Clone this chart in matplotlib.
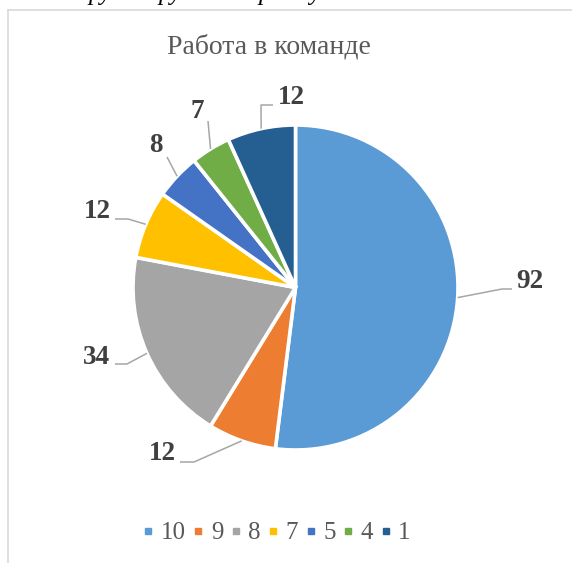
import numpy as np
import matplotlib.pyplot as plt
from matplotlib.lines import Line2D

plt.rcParams['font.family'] = ['Liberation Serif', 'DejaVu Serif']

W, H = 572, 563

# data
title = "Работа в команде"
categories = ["10", "9", "8", "7", "5", "4", "1"]
values = [92, 12, 34, 12, 8, 7, 12]
colors = ["#5B9BD5", "#ED7D31", "#A5A5A5", "#FFC000", "#4472C4", "#70AD47", "#255E91"]

# label text centres and leader-line elbows (image pixel coords, y down)
label_pos = [(530, 281), (162, 453), (97, 357), (97, 212), (156, 146), (197, 111), (291, 97)]
elbow_pos = [(502, 289), (194, 462), (127, 364), (128, 219), (167, 157), (208, 121), (261, 105)]
line_end = [(512, 289), (180, 462), (115, 364), (115, 219), None, None, (273, 105)]

cx, cy, r = 295.5, 287.5, 162.5


def flip(y):
    return H - y


fig = plt.figure(figsize=(W / 100, H / 100), dpi=100)
ax = fig.add_axes([0, 0, 1, 1])

wedges, _ = ax.pie(values, colors=colors, startangle=90, counterclock=False,
                   center=(cx, flip(cy)), radius=r, frame=True,
                   wedgeprops=dict(edgecolor="white", linewidth=2.6))
ax.set_xlim(0, W)
ax.set_ylim(0, H)
ax.axis("off")

# data labels with leader lines
for w, v, lp, ep, le in zip(wedges, values, label_pos, elbow_pos, line_end):
    mid = np.deg2rad((w.theta1 + w.theta2) / 2)
    sx, sy = cx + r * np.cos(mid), flip(cy) + r * np.sin(mid)
    xs = [sx, ep[0]]
    ys = [sy, flip(ep[1])]
    if le is not None:
        xs.append(le[0])
        ys.append(flip(le[1]))
    ax.plot(xs, ys, color="#A6A6A6", lw=1.1, solid_capstyle="butt")
    ax.text(lp[0], flip(lp[1]), str(v), ha="center", va="center",
            fontsize=19.5, fontweight="bold", color="#404040")

# title
fig.text(269 / W, 1 - 47 / H, title, ha="center", va="center",
         fontsize=20, color="#595959")

# chart frame (partly visible)
fig.add_artist(Line2D([8 / W, 8 / W], [0, 1 - 10 / H], color="#D9D9D9", lw=1.2))
fig.add_artist(Line2D([8 / W, 1], [1 - 10 / H, 1 - 10 / H], color="#D9D9D9", lw=1.2))

# cut-off text of the page above the chart
for x0, s in [(88, "ру"), (158, "ру"), (258, "р"), (309, "у")]:
    fig.text(x0 / W, 1.0, s, ha="left", va="baseline", fontsize=18,
             style="italic", color="black")

# legend
handles = [Line2D([], [], marker="s", linestyle="none", markersize=5,
                  markerfacecolor=c, markeredgecolor=c) for c in colors]
fig.legend(handles, categories, loc="center", bbox_to_anchor=(277 / W, 1 - 533 / H),
           ncol=7, frameon=False, fontsize=18, labelcolor="#595959",
           handlelength=0.4, handletextpad=0.3, columnspacing=0.3)

fig.savefig("out.png", dpi=100)
